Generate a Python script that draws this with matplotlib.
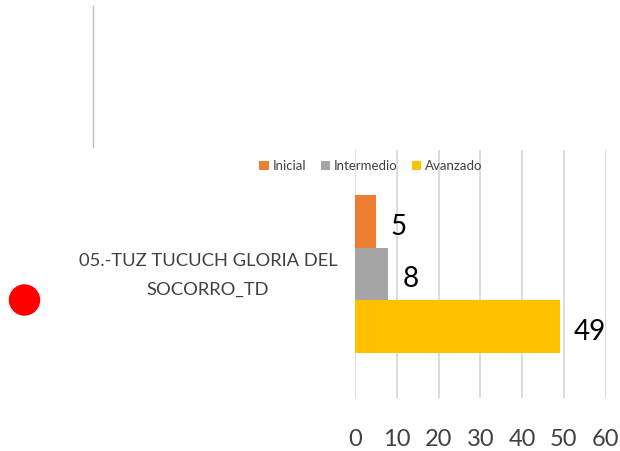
import matplotlib
matplotlib.use("Agg")
import matplotlib.pyplot as plt
from matplotlib.patches import Circle
from matplotlib.lines import Line2D
from matplotlib.transforms import IdentityTransform, blended_transform_factory

# data
category = "05.-TUZ TUCUCH GLORIA DEL\nSOCORRO_TD"
series = ["Inicial", "Intermedio", "Avanzado"]
values = [5, 8, 49]
colors = ["#ED7D31", "#A5A5A5", "#FFC000"]
xticks = [0, 10, 20, 30, 40, 50, 60]

plt.rcParams["font.family"] = ["Lato", "DejaVu Sans"]

W, H = 620, 451
fig = plt.figure(figsize=(W / 100, H / 100), dpi=100)
ax = fig.add_axes([355 / W, (H - 398) / H, (605.7 - 355) / W, 248 / H])

offsets = [-1, 0, 1]
for off, name, val, col in zip(offsets, series, values, colors):
    ax.barh(off, val, height=1.0, color=col, label=name, zorder=3)
    ax.text(val + 3.4, off + 0.1, str(val), va="center", ha="left",
            fontsize=20, color="#000000")

ax.set_xlim(0, 60)
ax.set_ylim(2.35, -2.35)
ax.set_xticks(xticks)
ax.set_xticklabels([str(t) for t in xticks], fontsize=17, color="#404040")
ax.tick_params(axis="x", length=0, pad=22)
ax.set_yticks([])

# category label, centred on the bar group
trans = blended_transform_factory(ax.transAxes, ax.transData)
ax.text(-0.07, 0.02, category, transform=trans, ha="right", va="center",
        fontsize=13.2, color="#404040", multialignment="center", linespacing=2.0)

ax.grid(axis="x", color="#d9d9d9", linewidth=1.3, zorder=0)
for s in ax.spines.values():
    s.set_visible(False)

leg = ax.legend(loc="center", bbox_to_anchor=(371 / W, (H - 166) / H),
                bbox_transform=fig.transFigure, ncol=3, frameon=False,
                fontsize=9.5, handlelength=0.7, handleheight=0.7,
                handletextpad=0.3, columnspacing=1.1, labelcolor="#404040")

# decorations
fig.add_artist(Line2D([92.5, 92.5], [H - 6, H - 147], transform=IdentityTransform(),
                      color="#bfbfbf", linewidth=1))
fig.add_artist(Circle((24.5, H - 300), 15, transform=IdentityTransform(),
                      color="#FF0000"))

fig.savefig("out.png", dpi=100)
